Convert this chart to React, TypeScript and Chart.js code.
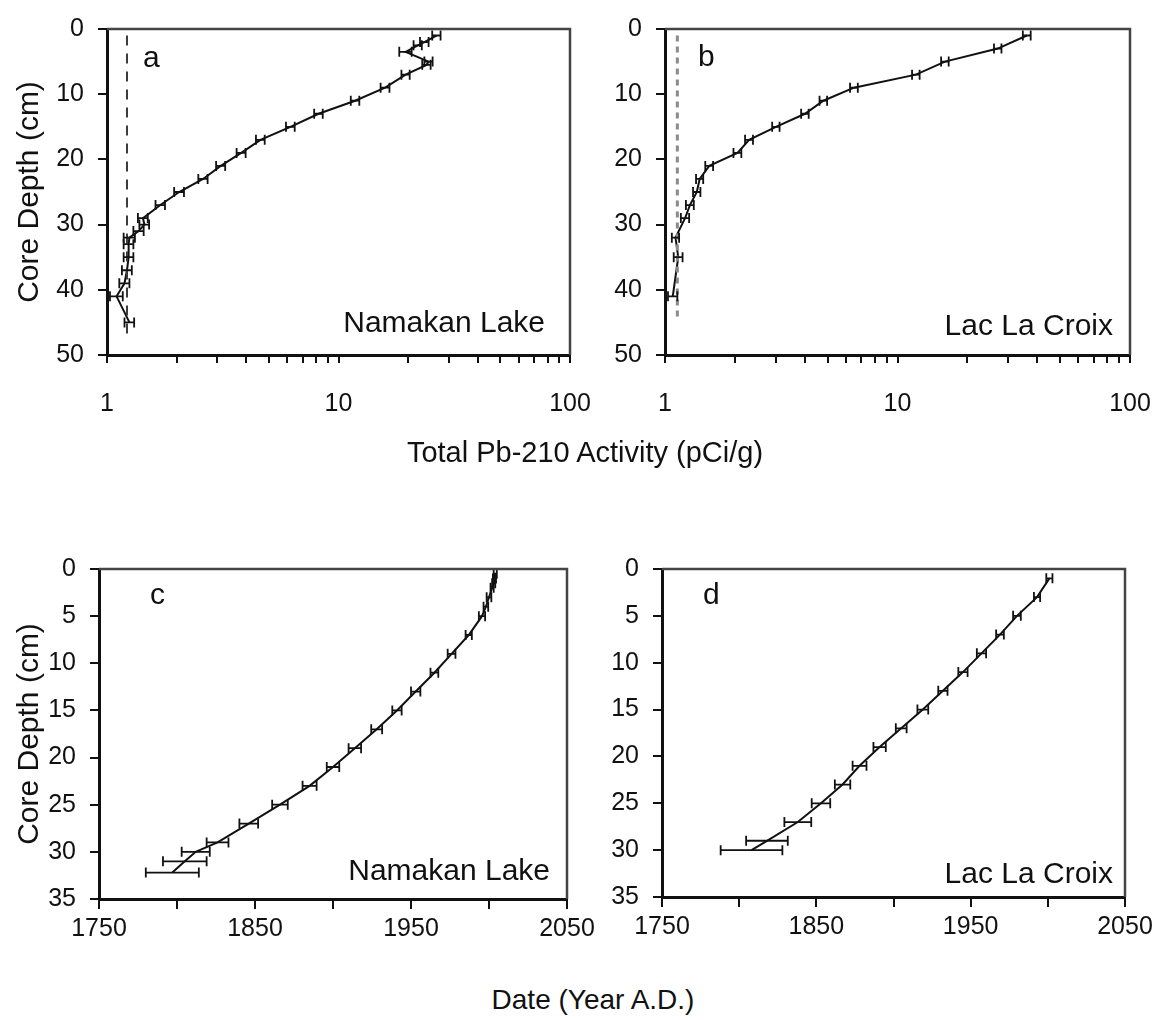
import React, { useEffect, useRef } from 'react';
import { Chart, registerables } from 'chart.js';

Chart.register(...registerables);

const FONT = '"Liberation Sans", Arial, Helvetica, sans-serif';
const INK = '#111111';

// ---------- Panel a: Namakan Lake, total Pb-210 ----------
const namakanPbDepth = [1, 2, 2.5, 3.5, 5, 5.5, 7, 9, 11, 13, 15, 17, 19, 21, 23, 25, 27, 29, 30, 31, 32, 33, 35, 37, 39, 41, 45];
const namakanPbActivity = [26.5, 23.5, 22, 19.5, 24.5, 24, 19.5, 15.9, 11.8, 8.2, 6.2, 4.6, 3.8, 3.1, 2.6, 2.05, 1.7, 1.43, 1.45, 1.37, 1.25, 1.24, 1.24, 1.22, 1.19, 1.1, 1.25];
const namakanPbError = [1.1, 1.0, 0.9, 1.2, 1.0, 1.0, 0.8, 0.7, 0.5, 0.35, 0.27, 0.2, 0.17, 0.14, 0.12, 0.1, 0.08, 0.07, 0.07, 0.07, 0.07, 0.06, 0.06, 0.06, 0.06, 0.07, 0.06];
const namakanSupported = 1.22;
const namakanSupportedDepths = [1, 47];

// ---------- Panel b: Lac La Croix, total Pb-210 ----------
const croixPbDepth = [1, 3, 5, 7, 9, 11, 13, 15, 17, 19, 21, 23, 25, 27, 29, 32, 35, 41];
const croixPbActivity = [36, 27, 16, 12, 6.5, 4.8, 4.0, 3.0, 2.3, 2.05, 1.55, 1.41, 1.37, 1.28, 1.22, 1.11, 1.14, 1.08];
const croixPbError = [1.4, 1.0, 0.6, 0.45, 0.25, 0.18, 0.15, 0.11, 0.09, 0.08, 0.06, 0.05, 0.05, 0.05, 0.05, 0.04, 0.05, 0.05];
const croixSupported = 1.13;
const croixSupportedDepths = [1, 44.5];

// ---------- Panel c: Namakan Lake, dates ----------
const namakanDateDepth = [0.5, 1, 1.5, 2, 3, 4, 5, 7, 9, 11, 13, 15, 17, 19, 21, 23, 25, 27, 29, 30, 31, 32.2];
const namakanYear = [2004, 2003.5, 2003, 2002, 2000, 1998, 1995.5, 1987, 1976, 1965, 1953, 1941, 1928, 1914, 1900, 1885, 1866, 1846, 1826, 1812, 1805, 1797];
const namakanYearError = [1, 1, 1, 1, 1.5, 1.5, 2, 2, 2.5, 2.5, 3, 3, 3.5, 4, 4, 4.5, 5, 6, 7, 9, 14, 17];

// ---------- Panel d: Lac La Croix, dates ----------
const croixDateDepth = [1, 3, 5, 7, 9, 11, 13, 15, 17, 19, 21, 23, 25, 27, 29, 30];
const croixYear = [2001, 1993, 1980, 1969, 1957, 1945, 1932, 1919, 1905, 1891, 1878, 1867, 1853, 1838, 1818, 1808];
const croixYearError = [2, 2, 2.5, 2.5, 3, 3, 3, 3.5, 3.5, 4, 4.5, 5, 6, 8.7, 13.5, 20];

// ---------- Axes ----------
const logTickValues = [1, 2, 3, 4, 5, 6, 7, 8, 9, 10, 20, 30, 40, 50, 60, 70, 80, 90, 100];
const logTickLabels = [1, 10, 100];
const pbDepthMax = 50;
const pbDepthStep = 10;
const dateDepthMax = 35;
const dateDepthStep = 5;
const yearMin = 1750;
const yearMax = 2050;
const yearStep = 50;
const yearTickLabels = [1750, 1850, 1950, 2050];

const panelLetters = ['a', 'b', 'c', 'd'];
const lakeNames = ['Namakan Lake', 'Lac La Croix', 'Namakan Lake', 'Lac La Croix'];
const depthTitle = 'Core Depth (cm)';
const pbTitle = 'Total Pb-210 Activity (pCi/g)';
const dateTitle = 'Date (Year A.D.)';

type PanelSpec = {
  left: number; top: number; width: number; height: number;
  padTop: number; padRight: number;
  yWidth: number; xHeight: number;
  kind: 'pb' | 'date';
  xs: number[]; ys: number[]; errs: number[];
  dashX?: number; dashDepths?: number[]; dashColor?: string; dash?: number[]; dashWidth?: number;
  letter: string; name: string;
  letterDx: number; letterDy: number; nameDx: number; nameDy: number;
  yTitle: boolean;
};

const panels: PanelSpec[] = [
  {
    left: 0, top: 0, width: 600, height: 440, padTop: 15, padRight: 30, yWidth: 107, xHeight: 85,
    kind: 'pb', xs: namakanPbActivity, ys: namakanPbDepth, errs: namakanPbError,
    dashX: namakanSupported, dashDepths: namakanSupportedDepths, dashColor: '#3c3c3c', dash: [10, 8], dashWidth: 2,
    letter: panelLetters[0], name: lakeNames[0], letterDx: 36, letterDy: 38, nameDx: 25, nameDy: 23, yTitle: true,
  },
  {
    left: 600, top: 0, width: 560, height: 440, padTop: 15, padRight: 30, yWidth: 65, xHeight: 85,
    kind: 'pb', xs: croixPbActivity, ys: croixPbDepth, errs: croixPbError,
    dashX: croixSupported, dashDepths: croixSupportedDepths, dashColor: '#8a8a8a', dash: [6, 5], dashWidth: 3,
    letter: panelLetters[1], name: lakeNames[1], letterDx: 33, letterDy: 37, nameDx: 17, nameDy: 20, yTitle: false,
  },
  {
    left: 0, top: 540, width: 600, height: 440, padTop: 20, padRight: 33, yWidth: 99, xHeight: 81,
    kind: 'date', xs: namakanYear, ys: namakanDateDepth, errs: namakanYearError,
    letter: panelLetters[2], name: lakeNames[2], letterDx: 51, letterDy: 35, nameDx: 17, nameDy: 19, yTitle: true,
  },
  {
    left: 600, top: 540, width: 560, height: 440, padTop: 20, padRight: 35, yWidth: 62, xHeight: 83,
    kind: 'date', xs: croixYear, ys: croixDateDepth, errs: croixYearError,
    letter: panelLetters[3], name: lakeNames[3], letterDx: 41, letterDy: 35, nameDx: 12, nameDy: 14, yTitle: false,
  },
];

function buildConfig(p: PanelSpec): any {
  const datasets: any[] = [];
  if (p.dashX != null && p.dashDepths) {
    datasets.push({
      data: p.dashDepths.map((d) => ({ x: p.dashX, y: d })),
      showLine: true, borderColor: p.dashColor, borderDash: p.dash, borderWidth: p.dashWidth,
      pointRadius: 0, pointHoverRadius: 0,
    });
  }
  datasets.push({
    data: p.xs.map((v, i) => ({ x: v, y: p.ys[i] })),
    showLine: true, borderColor: INK, borderWidth: 2, pointRadius: 0, pointHoverRadius: 0,
    errors: p.errs,
  });

  const tickFont = { family: FONT, size: 25 };
  const xScale: any = p.kind === 'pb'
    ? {
        type: 'logarithmic', min: 1, max: 100, position: 'bottom',
        afterBuildTicks: (s: any) => { s.ticks = logTickValues.map((v) => ({ value: v })); },
        ticks: {
          autoSkip: false, maxRotation: 0, font: { family: FONT, size: 25, lineHeight: 3.04 }, color: INK, padding: 3,
          callback: (v: any) => (logTickLabels.includes(Number(v)) ? String(v) : ''),
        },
        grid: { display: true, drawOnChartArea: false, drawTicks: true, tickLength: 8, color: INK, lineWidth: 2 },
        border: { display: true, color: INK, width: 3 },
        afterFit: (s: any) => { s.height = p.xHeight; },
      }
    : {
        type: 'linear', min: yearMin, max: yearMax, position: 'bottom',
        ticks: {
          stepSize: yearStep, autoSkip: false, maxRotation: 0, font: { family: FONT, size: 25, lineHeight: 1.4 }, color: INK, padding: 3,
          callback: (v: any) => (yearTickLabels.includes(Number(v)) ? String(v) : ''),
        },
        grid: { display: true, drawOnChartArea: false, drawTicks: true, tickLength: 10, color: INK, lineWidth: 2 },
        border: { display: true, color: INK, width: 3 },
        afterFit: (s: any) => { s.height = p.xHeight; },
      };

  const yScale: any = {
    type: 'linear', reverse: true, min: 0,
    max: p.kind === 'pb' ? pbDepthMax : dateDepthMax,
    ticks: {
      stepSize: p.kind === 'pb' ? pbDepthStep : dateDepthStep,
      font: tickFont, color: INK, padding: 14,
    },
    grid: { display: true, drawOnChartArea: false, drawTicks: true, tickLength: 9, color: INK, lineWidth: 2 },
    border: { display: true, color: INK, width: 3 },
    title: {
      display: p.yTitle, text: depthTitle, color: INK,
      font: { family: FONT, size: 30 }, padding: { top: 12, bottom: 0 },
    },
    afterFit: (s: any) => { s.width = p.yWidth; },
  };

  const errorBars = {
    id: 'errorBars',
    afterDatasetsDraw(chart: any) {
      const { ctx } = chart;
      const xs = chart.scales.x;
      const ys = chart.scales.y;
      ctx.save();
      ctx.strokeStyle = INK;
      ctx.lineWidth = 1.8;
      chart.data.datasets.forEach((ds: any) => {
        if (!ds.errors) return;
        ds.data.forEach((pt: any, j: number) => {
          const e = ds.errors[j];
          const x1 = xs.getPixelForValue(pt.x - e);
          const x2 = xs.getPixelForValue(pt.x + e);
          const y = ys.getPixelForValue(pt.y);
          const cap = 5;
          ctx.beginPath();
          ctx.moveTo(x1, y); ctx.lineTo(x2, y);
          ctx.moveTo(x1, y - cap); ctx.lineTo(x1, y + cap);
          ctx.moveTo(x2, y - cap); ctx.lineTo(x2, y + cap);
          ctx.stroke();
        });
      });
      ctx.restore();
    },
  };

  const frameText = {
    id: 'frameText',
    afterDraw(chart: any) {
      const { ctx, chartArea: a } = chart;
      ctx.save();
      ctx.strokeStyle = '#444444';
      ctx.lineWidth = 2.5;
      ctx.beginPath();
      ctx.moveTo(a.left, a.top); ctx.lineTo(a.right, a.top); ctx.lineTo(a.right, a.bottom);
      ctx.stroke();
      ctx.fillStyle = INK;
      ctx.font = `30px ${FONT}`;
      ctx.textBaseline = 'alphabetic';
      ctx.textAlign = 'left';
      ctx.fillText(p.letter, a.left + p.letterDx, a.top + p.letterDy);
      ctx.textAlign = 'right';
      ctx.fillText(p.name, a.right - p.nameDx, a.bottom - p.nameDy);
      ctx.restore();
    },
  };

  return {
    type: 'scatter',
    data: { datasets },
    options: {
      animation: false,
      responsive: false,
      maintainAspectRatio: false,
      devicePixelRatio: 1,
      layout: { padding: { top: p.padTop, right: p.padRight, bottom: 0, left: 0 } },
      plugins: { legend: { display: false }, tooltip: { enabled: false }, title: { display: false } },
      events: [],
      scales: { x: xScale, y: yScale },
    },
    plugins: [errorBars, frameText],
  };
}

function Panel({ spec }: { spec: PanelSpec }) {
  const ref = useRef<HTMLCanvasElement | null>(null);
  useEffect(() => {
    if (!ref.current) return;
    const chart = new Chart(ref.current, buildConfig(spec));
    return () => chart.destroy();
  }, [spec]);
  return (
    <canvas
      ref={ref}
      width={spec.width}
      height={spec.height}
      style={{ position: 'absolute', left: spec.left, top: spec.top, width: spec.width, height: spec.height }}
    />
  );
}

export default function App() {
  const titleStyle: React.CSSProperties = {
    position: 'absolute', fontFamily: FONT, lineHeight: '30px', color: INK,
    whiteSpace: 'nowrap', transform: 'translateX(-50%)',
  };
  return (
    <div style={{ position: 'absolute', left: 0, top: 0, width: 1160, height: 1020, background: '#ffffff', overflow: 'hidden' }}>
      {panels.map((p, i) => (
        <Panel key={i} spec={p} />
      ))}
      <div style={{ ...titleStyle, fontSize: 29, left: 585, top: 437 }}>{pbTitle}</div>
      <div style={{ ...titleStyle, fontSize: 28, left: 593, top: 985 }}>{dateTitle}</div>
    </div>
  );
}
